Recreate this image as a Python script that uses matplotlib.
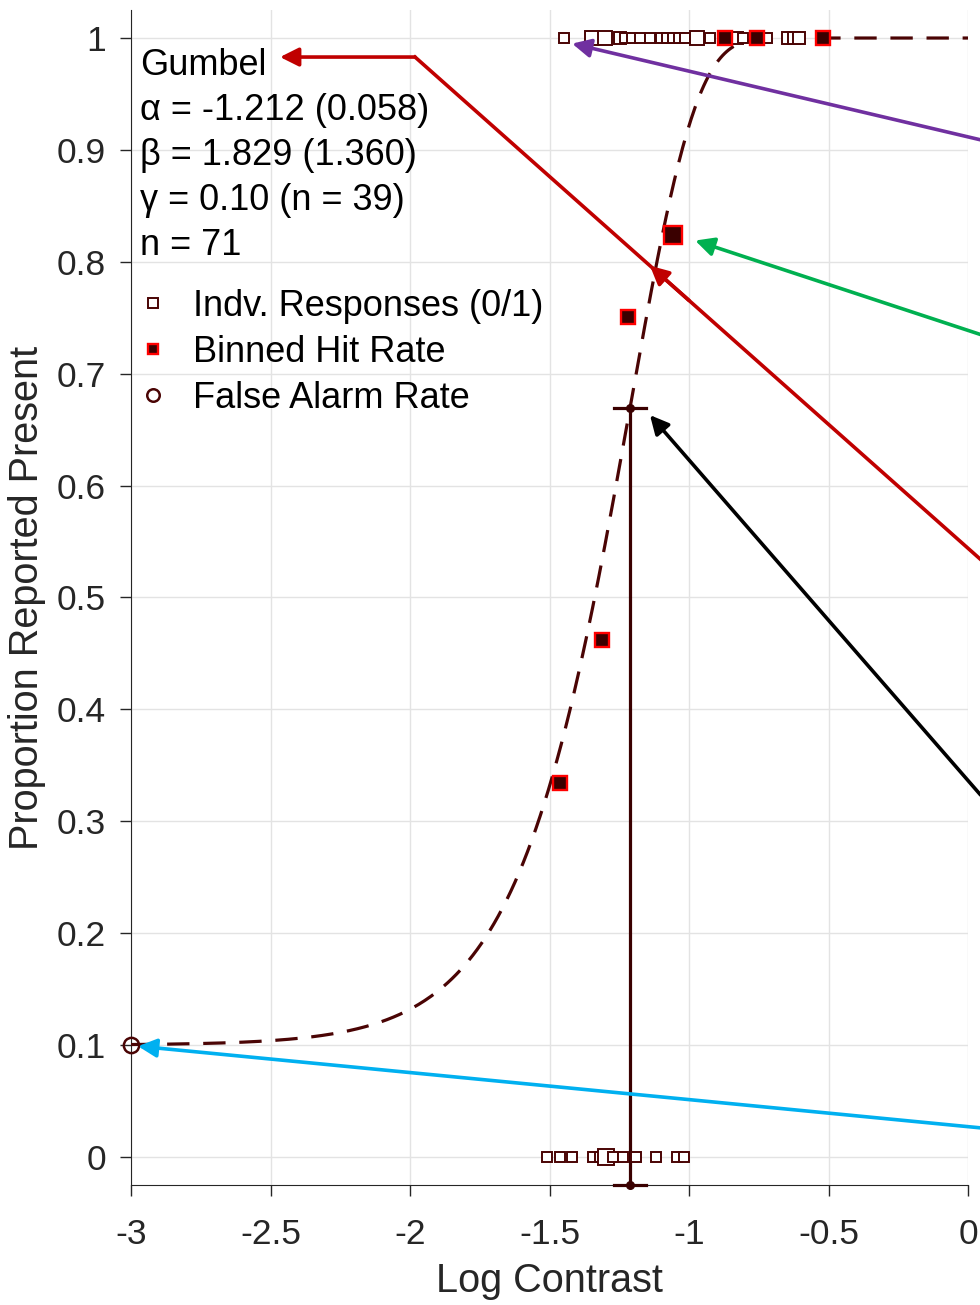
import numpy as np
import matplotlib
matplotlib.use('Agg')
import matplotlib.pyplot as plt
from matplotlib.lines import Line2D

plt.rcParams['font.family'] = ['Liberation Sans', 'DejaVu Sans']
plt.rcParams['axes.unicode_minus'] = False

# Gumbel fit parameters
alpha, alpha_se = -1.212, 0.058
beta, beta_se = 1.829, 1.360
gamma = 0.10
n_fa, n_total = 39, 71

# individual yes/no responses (log contrast, marker size)
yes_x = [-1.448, -1.348, -1.301, -1.247, -1.229, -1.204, -1.176, -1.140, -1.100,
         -1.079, -1.057, -1.036, -1.014, -0.971, -0.925, -0.828, -0.805, -0.720,
         -0.645, -0.625, -0.605]
yes_size = [6.5, 10.5, 10.5, 9, 7.5, 7.5, 6.5, 6.5, 7.5, 7.5, 7.5, 7.5, 7.5, 9.5, 6.5,
            8.5, 7.5, 6.5, 8.5, 8.5, 8.5]
no_x = [-1.509, -1.462, -1.419, -1.344, -1.319, -1.297, -1.272, -1.237, -1.190,
        -1.118, -1.043, -1.018]
no_size = [7, 7, 7, 7, 7, 11, 7, 7, 7, 7, 7, 7]

# binned hit rates
bin_x = [-1.462, -1.312, -1.219, -1.057, -0.871, -0.756, -0.520]
bin_y = [0.334, 0.462, 0.751, 0.824, 1.0, 1.0, 1.0]
bin_size = [10.5, 10.5, 10.5, 13.5, 10.5, 10.5, 10.5]

fa_x, fa_y = -3.0, 0.10

maroon = '#4a0404'
dark = '#3a0000'


def gumbel(x):
    return gamma + (1 - gamma) * (1 - np.exp(-10 ** (beta * (x - alpha))))


fig = plt.figure(figsize=(9.8, 13.05), dpi=100)
ax = fig.add_axes([0.1337, 0.0920, 0.8541, 0.9003])
ax.set_xlim(-3, 0)
ax.set_ylim(-0.025, 1.025)

ax.grid(True, color='#e3e3e3', lw=1)
ax.set_axisbelow(True)
for side in ['top', 'right']:
    ax.spines[side].set_visible(False)
for side in ['left', 'bottom']:
    ax.spines[side].set_color('#262626')
ax.set_xticks(np.arange(-3, 0.01, 0.5))
ax.set_yticks(np.arange(0, 1.01, 0.1))
ax.set_xticklabels(['-3', '-2.5', '-2', '-1.5', '-1', '-0.5', '0'])
ax.set_yticklabels(['0', '0.1', '0.2', '0.3', '0.4', '0.5', '0.6', '0.7', '0.8', '0.9', '1'])
ax.tick_params(direction='out', length=8, width=1, colors='#262626', labelsize=25.5, pad=10)
ax.tick_params(axis='x', pad=16)
ax.set_xlabel('Log Contrast', fontsize=28.5, color='#262626', labelpad=8)
ax.set_ylabel('Proportion Reported Present', fontsize=28.5, color='#262626', labelpad=8)

# fitted curve
xs = np.linspace(-3, 0, 400)
ax.plot(xs, gumbel(xs), color=maroon, lw=2.3, dashes=(7, 4.3), zorder=3)

# threshold with standard error
y_thr = gumbel(alpha)
y_bot = ax.get_ylim()[0]
ax.plot([alpha, alpha], [y_bot, y_thr], color=dark, lw=2.3, zorder=4, clip_on=False)
for yy in [y_thr, y_bot]:
    ax.plot([alpha - alpha_se, alpha + alpha_se], [yy, yy], color=dark, lw=2.3,
            zorder=4, clip_on=False)
    ax.plot(alpha, yy, 'o', color=dark, ms=5.5, zorder=5, clip_on=False)

# individual responses
for x, s in zip(yes_x, yes_size):
    ax.plot(x, 1.0, 's', ms=s, mfc='white', mec=maroon, mew=1.4, zorder=4)
for x, s in zip(no_x, no_size):
    ax.plot(x, 0.0, 's', ms=s, mfc='white', mec=maroon, mew=1.4, zorder=4)

# binned hit rates
for x, y, s in zip(bin_x, bin_y, bin_size):
    ax.plot(x, y, 's', ms=s, mfc=dark, mec='#ff0000', mew=1.7, zorder=6)

# false alarm rate
ax.plot(fa_x, fa_y, 'o', ms=11, mfc='none', mec=maroon, mew=1.8, zorder=6, clip_on=False)

# parameter text
lines = ['Gumbel',
         f'\u03b1 = {alpha:.3f} ({alpha_se:.3f})',
         f'\u03b2 = {beta:.3f} ({beta_se:.3f})',
         f'\u03b3 = {gamma:.2f} (n = {n_fa})',
         f'n = {n_total}']
for i, t in enumerate(lines):
    ax.text(-2.968, 0.9755 - i * 0.0402, t, fontsize=26, va='center', ha='left', zorder=7)

# legend
handles = [
    Line2D([], [], ls='none', marker='s', ms=6.5, mfc='white', mec=maroon, mew=1.4),
    Line2D([], [], ls='none', marker='s', ms=6.5, mfc=dark, mec='#ff0000', mew=1.7),
    Line2D([], [], ls='none', marker='o', ms=9, mfc='none', mec=maroon, mew=1.8),
]
ax.legend(handles, ['Indv. Responses (0/1)', 'Binned Hit Rate', 'False Alarm Rate'],
          loc='upper left', bbox_to_anchor=(-0.013, 0.775), frameon=False, fontsize=26,
          handlelength=1.0, handletextpad=0.62, labelspacing=0.3, borderaxespad=0)

# annotation arrows
x_out = 0.045
arrow_kw = dict(arrowstyle='-|>', mutation_scale=28, shrinkA=0, shrinkB=0)

red = '#c00000'
red_start, red_bend = (x_out, 0.534), (-1.982, 0.983)


def on_red(x):
    t = (red_start[0] - x) / (red_start[0] - red_bend[0])
    return red_start[1] + t * (red_bend[1] - red_start[1])


ax.plot([red_start[0], red_bend[0]], [red_start[1], red_bend[1]], color=red, lw=2.6,
        clip_on=False, zorder=8)
ax.annotate('', xy=(-2.466, 0.983), xytext=red_bend, annotation_clip=False,
            arrowprops=dict(color=red, lw=2.6, **arrow_kw), zorder=8)
ax.annotate('', xy=(-1.14, on_red(-1.14)), xytext=(-1.0, on_red(-1.0)),
            annotation_clip=False, arrowprops=dict(color=red, lw=2.6, **arrow_kw), zorder=8)

arrows = [
    ((x_out, 0.909), (-1.419, 0.995), '#7030a0'),
    ((x_out, 0.735), (-0.978, 0.819), '#00b050'),
    ((x_out, 0.3235), (-1.140, 0.663), '#000000'),
    ((x_out, 0.026), (-2.975, 0.099), '#00b0f0'),
]
for start, tip, col in arrows:
    ax.annotate('', xy=tip, xytext=start, annotation_clip=False,
                arrowprops=dict(color=col, lw=2.6, **arrow_kw), zorder=8)

fig.savefig('out.png', dpi=100)
